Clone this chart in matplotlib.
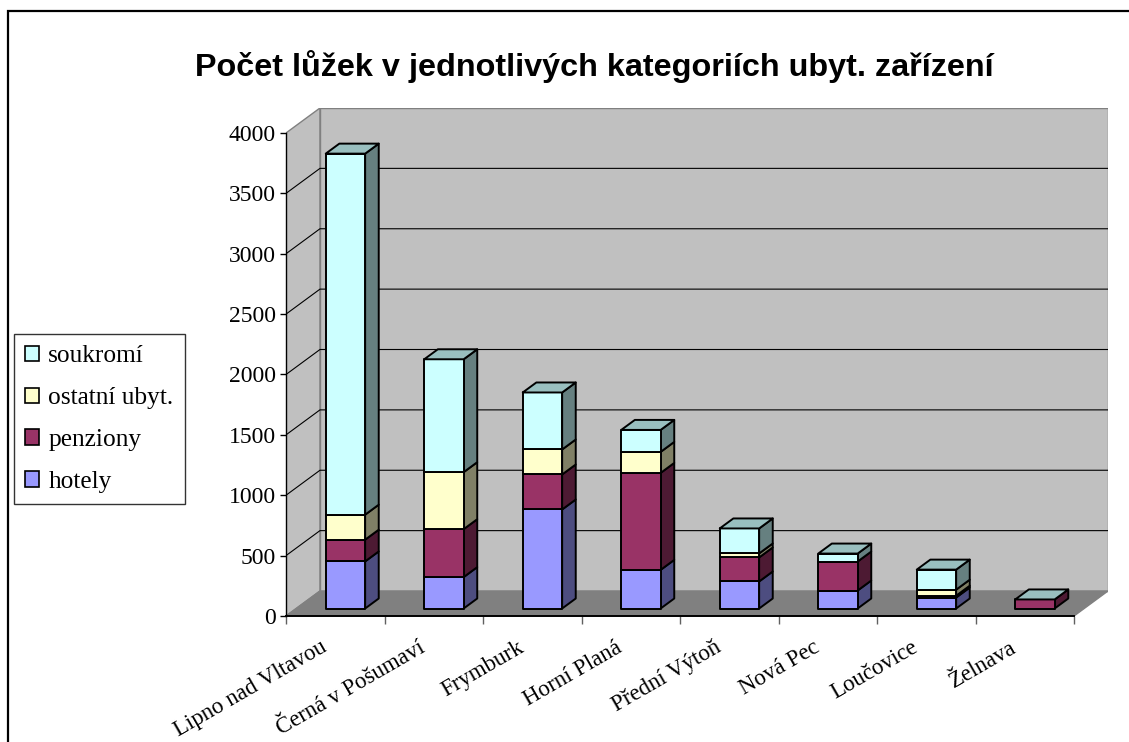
import numpy as np
import matplotlib.pyplot as plt
import matplotlib.colors as mcolors
from matplotlib.patches import Polygon, Patch, Rectangle

# data (beds per category)
towns = ['Lipno nad Vltavou', 'Černá v Pošumaví', 'Frymburk', 'Horní Planá',
         'Přední Výtoň', 'Nová Pec', 'Loučovice', 'Želnava']
hotely = [390, 260, 820, 320, 224, 149, 91, 0]
penziony = [180, 397, 290, 803, 199, 240, 15, 75]
ostatni = [207, 472, 207, 174, 33, 0, 50, 0]
soukromi = [2990, 935, 472, 182, 207, 66, 166, 0]

series_names = ['hotely', 'penziony', 'ostatní ubyt.', 'soukromí']
series_vals = [hotely, penziony, ostatni, soukromi]
series_cols = ['#9999FF', '#993366', '#FFFFCC', '#CCFFFF']

title = 'Počet lůžek v jednotlivých kategoriích ubyt. zařízení'
yticks = np.arange(0, 4001, 500)

# fake 3d geometry
DX = 0.345     # depth offset in category units
DY = 207       # depth offset in value units
W = 0.4        # bar width
D0, D1 = 0.3, 0.7   # bar front / back depth (fraction)


def shade(c, f):
    r, g, b = mcolors.to_rgb(c)
    return (r * f, g * f, b * f)


W_PX, H_PX = 1129, 742
fig = plt.figure(figsize=(W_PX / 100, H_PX / 100), dpi=100)
fig.patch.set_facecolor('white')

# axes: data (0,0) -> px (286,616), (8+DX, 4000+DY) -> px (1108,108)
ax = fig.add_axes([286 / W_PX, 1 - 616 / H_PX, (1108 - 286) / W_PX, (616 - 108) / H_PX])
ax.set_xlim(0, 8 + DX)
ax.set_ylim(0, 4000 + DY)
ax.patch.set_alpha(0)

ymax = 4000
# walls and floor
ax.add_patch(Polygon([(0, 0), (DX, DY), (DX, ymax + DY), (0, ymax)],
                     fc='#C0C0C0', ec='#808080', lw=1, zorder=0))
ax.add_patch(Polygon([(DX, DY), (8 + DX, DY), (8 + DX, ymax + DY), (DX, ymax + DY)],
                     fc='#C0C0C0', ec='#808080', lw=1, zorder=0))
ax.add_patch(Polygon([(0, 0), (8, 0), (8 + DX, DY), (DX, DY)],
                     fc='#808080', ec='#808080', lw=1, zorder=0.5))

for v in yticks[1:-1]:
    ax.plot([0, DX, 8 + DX], [v, v + DY, v + DY], color='black', lw=0.8, zorder=1)

# bars
for i in range(len(towns)):
    x0 = i + 0.5 - W / 2 + D0 * DX
    x1 = x0 + W
    ddx = (D1 - D0) * DX
    ddy = (D1 - D0) * DY
    y = D0 * DY
    for vals, col in zip(series_vals, series_cols):
        v = vals[i]
        if v <= 0:
            continue
        ax.add_patch(Polygon([(x1, y), (x1 + ddx, y + ddy), (x1 + ddx, y + v + ddy), (x1, y + v)],
                             fc=shade(col, 0.5), ec='black', lw=1.4, zorder=3, joinstyle='round'))
        ax.add_patch(Rectangle((x0, y), W, v, fc=col, ec='black', lw=1.4, zorder=3, joinstyle='round'))
        y += v
    ax.add_patch(Polygon([(x0, y), (x1, y), (x1 + ddx, y + ddy), (x0 + ddx, y + ddy)],
                         fc=shade(series_cols[-1], 0.75), ec='black', lw=1.4, zorder=3, joinstyle='round'))

# axes lines and ticks
for s in ['top', 'right']:
    ax.spines[s].set_visible(False)
ax.spines['left'].set_bounds(0, ymax)
ax.spines['bottom'].set_bounds(0, 8)
ax.spines['left'].set_linewidth(1)
ax.spines['bottom'].set_linewidth(1.4)
ax.spines['left'].set_zorder(2)
ax.spines['bottom'].set_zorder(2)
ax.set_yticks(yticks)
ax.set_yticklabels([str(t) for t in yticks], family='Liberation Serif', fontsize=17)
ax.tick_params(axis='y', length=4.5, width=1, pad=3, color='black')
ax.set_xticks(np.arange(0, 9))
ax.set_xticklabels([])
ax.tick_params(axis='x', length=6, width=1, color='#606060')

for i, name in enumerate(towns):
    ax.annotate(name, xy=(i + 0.5, 0), xytext=(-10, -30), textcoords='offset pixels',
                rotation=30, ha='right', va='center', rotation_mode='anchor',
                family='Liberation Serif', fontsize=16.5)

fig.text(594 / W_PX, 1 - 67 / H_PX, title, ha='center', va='center',
         family='Liberation Sans', fontweight='bold', fontsize=23.3)

handles = [Patch(fc=c, ec='black', lw=1.2) for c in series_cols][::-1]
leg = fig.legend(handles, series_names[::-1], loc='upper left',
                 bbox_to_anchor=(14 / W_PX, 1 - 334 / H_PX), borderaxespad=0,
                 frameon=True, fancybox=False, edgecolor='black',
                 prop={'family': 'Liberation Serif', 'size': 18.3},
                 handlelength=0.55, handleheight=0.55, handletextpad=0.35,
                 labelspacing=0.78, borderpad=0.45)
leg.get_frame().set_linewidth(1)

# chart border (runs off the right and bottom edge)
fig.add_artist(Rectangle((8 / W_PX, -0.1), 1.2, 1 - 11 / H_PX + 0.1, transform=fig.transFigure,
                         fill=False, ec='black', lw=1.6))

fig.savefig('out.png', dpi=100)
